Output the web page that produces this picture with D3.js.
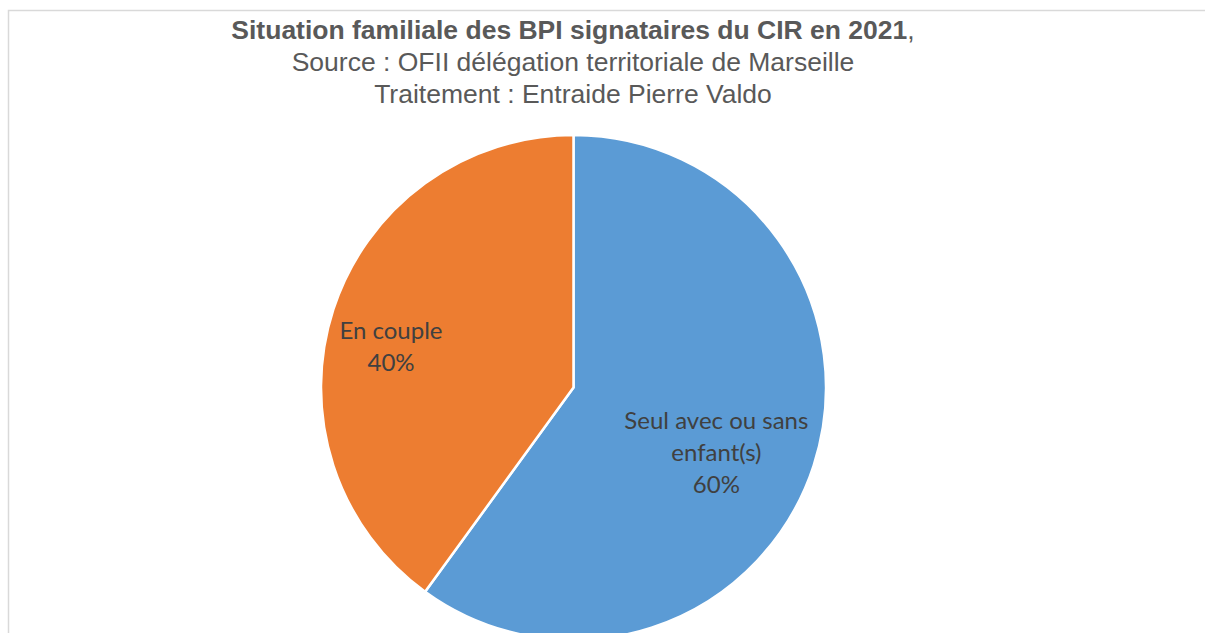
<!DOCTYPE html>
<html>
<head>
<meta charset="utf-8">
<style>
  body { margin: 0; background: #fff; }
  svg { display: block; }
</style>
</head>
<body>
<svg width="1205" height="633"></svg>
<script src="https://d3js.org/d3.v7.min.js"></script>
<script>
var categories = ["Seul avec ou sans enfant(s)", "En couple"];
var labelLines = [["Seul avec ou sans", "enfant(s)"], ["En couple"]];
var values = [60, 40];
var colors = ["#5B9BD5", "#ED7D31"];
var titleLines = ["Source : OFII délégation territoriale de Marseille", "Traitement : Entraide Pierre Valdo"];

var svg = d3.select("svg"),
    width = +svg.attr("width"),
    height = +svg.attr("height");

// chart frame (bottom and right run off the page)
svg.append("rect")
    .attr("x", 8.5).attr("y", 10.5)
    .attr("width", 1210).attr("height", 700)
    .attr("fill", "#fff")
    .attr("stroke", "#d9d9d9")
    .attr("stroke-width", 1.5);

// title
var title = svg.append("text")
    .attr("x", 573)
    .attr("y", 39)
    .attr("text-anchor", "middle")
    .style("font-family", "'Liberation Sans', Arial, sans-serif")
    .style("font-size", "26.5px")
    .attr("fill", "#595959");
title.append("tspan").attr("font-weight", "bold").text("Situation familiale des BPI signataires du CIR en 2021");
title.append("tspan").text(",");

titleLines.forEach(function(t, i) {
  svg.append("text")
      .attr("x", 573)
      .attr("y", 71 + i * 32)
      .attr("text-anchor", "middle")
      .style("font-family", "'Liberation Sans', Arial, sans-serif")
      .style("font-size", "26.5px")
      .attr("fill", "#595959")
      .text(t);
});

var cx = 573.5, cy = 387.5, radius = 252.5;
var g = svg.append("g").attr("transform", "translate(" + cx + "," + cy + ")");

var pie = d3.pie().sort(null).value(function(d) { return d; });
var arc = d3.arc().innerRadius(0).outerRadius(radius);
var arcs = pie(values);

g.selectAll(".slice")
  .data(arcs)
  .enter().append("path")
    .attr("class", "slice")
    .attr("d", arc)
    .attr("fill", function(d, i) { return colors[i]; })
    .attr("stroke", "#fff")
    .attr("stroke-width", 2.5)
    .attr("stroke-linejoin", "round");

var total = d3.sum(values);
// label placement: fraction of radius along mid-angle, plus a vertical nudge (best-fit style)
var labelRadius = [0.595, 0.76];
var labelNudge = [27, 27];

arcs.forEach(function(d, i) {
  var a = (d.startAngle + d.endAngle) / 2;
  var r = radius * labelRadius[i];
  var x = r * Math.sin(a), y = -r * Math.cos(a) + labelNudge[i];
  var lines = labelLines[i].concat([d3.format(".0%")(d.value / total)]);
  var lh = 32;
  var y0 = y - (lines.length - 1) * lh / 2;
  var t = g.append("text")
      .attr("text-anchor", "middle")
      .style("font-family", "Lato, 'Open Sans', sans-serif")
      .style("font-size", "24px")
      .attr("fill", "#404040");
  lines.forEach(function(l, j) {
    t.append("tspan").attr("x", x).attr("y", y0 + j * lh).text(l);
  });
});
</script>
</body>
</html>
